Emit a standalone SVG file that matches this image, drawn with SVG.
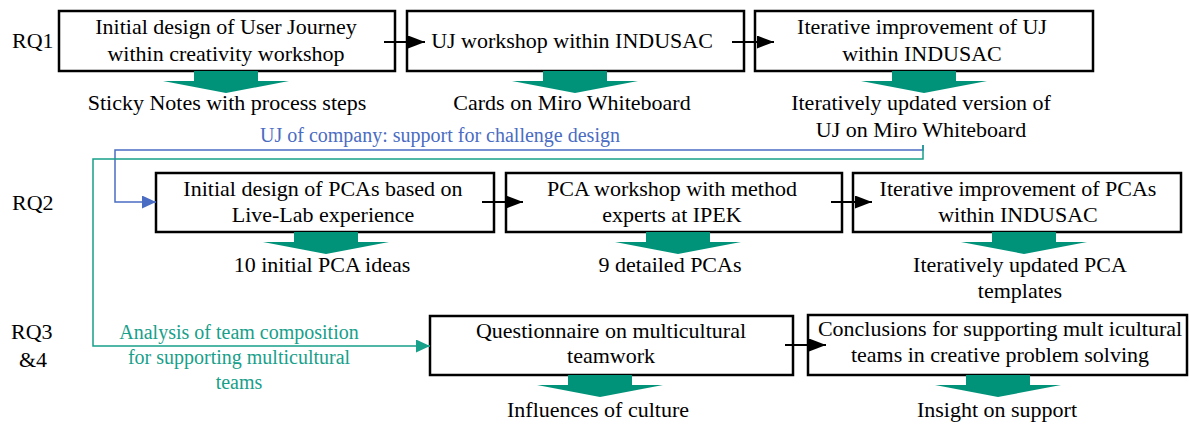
<svg xmlns="http://www.w3.org/2000/svg" width="1189" height="426" viewBox="0 0 1189 426" font-family="'Liberation Serif', 'DejaVu Serif', serif">
  <style>
    text { font-family: 'Liberation Serif', 'DejaVu Serif', serif; font-size: 22px; fill: #000; }
    .c { text-anchor: middle; }
    .box { fill: #fff; stroke: #000; stroke-width: 2.5; }
    .flow { stroke: #000; stroke-width: 2; fill: none; }
    .result { fill: #00937A; }
    .blue { stroke: #4A6CC2; stroke-width: 1.5; fill: none; }
    .teal { stroke: #17A08A; stroke-width: 1.5; fill: none; }
    .blueText { fill: #4A6CC2; font-size: 20px; }
    .tealText { fill: #17A08A; font-size: 20px; }
  </style>
  <defs>
    <marker id="headBlack" markerUnits="userSpaceOnUse" markerWidth="17" markerHeight="13" refX="17" refY="6.5" orient="auto">
      <path d="M0,0 L17,6.5 L0,13 z" fill="#000"/>
    </marker>
    <marker id="headBlue" markerUnits="userSpaceOnUse" markerWidth="14" markerHeight="13" refX="14" refY="6.5" orient="auto">
      <path d="M0,0 L14,6.5 L0,13 z" fill="#4A6CC2"/>
    </marker>
    <marker id="headTeal" markerUnits="userSpaceOnUse" markerWidth="14" markerHeight="13" refX="14" refY="6.5" orient="auto">
      <path d="M0,0 L14,6.5 L0,13 z" fill="#17A08A"/>
    </marker>
    <!-- wide down-arrow pointing at each result, centred on x=0, starting at y=0 -->
    <path id="resultArrow" class="result" d="M-32,0 H32 V10 H63 L0,22 L-63,10 H-32 z"/>
  </defs>

  <!-- row labels -->
  <g id="labels">
    <text x="12" y="48">RQ1</text>
    <text x="12" y="210">RQ2</text>
    <text x="11" y="339">RQ3</text>
    <text x="19" y="367">&amp;4</text>
  </g>

  <g id="connector-labels">
    <text class="blueText c" x="440" y="142">UJ of company: support for challenge design</text>
    <text class="tealText c" x="239" y="339">Analysis of team composition</text>
    <text class="tealText c" x="239" y="364">for supporting multicultural</text>
    <text class="tealText c" x="239" y="389">teams</text>
  </g>

  <!-- RQ1 -->
  <g id="uj-initial">
    <rect class="box" x="59" y="11" width="336" height="60"/>
    <text class="c" x="226" y="34">Initial design of User Journey</text>
    <text class="c" x="226" y="61">within creativity workshop</text>
    <use href="#resultArrow" x="226" y="71"/>
    <text class="c" x="227" y="110">Sticky Notes with process steps</text>
  </g>
  <g id="uj-workshop">
    <rect class="box" x="407" y="11" width="337" height="60"/>
    <text class="c" x="572" y="48">UJ workshop within INDUSAC</text>
    <use href="#resultArrow" x="575" y="71"/>
    <text class="c" x="572" y="110">Cards on Miro Whiteboard</text>
  </g>
  <g id="uj-iterative">
    <rect class="box" x="755" y="11" width="338" height="60"/>
    <text class="c" x="922" y="34">Iterative improvement of UJ</text>
    <text class="c" x="922" y="61">within INDUSAC</text>
    <use href="#resultArrow" x="924" y="71"/>
    <text class="c" x="921" y="110">Iteratively updated version of</text>
    <text class="c" x="921" y="137">UJ on Miro Whiteboard</text>
  </g>

  <!-- RQ2 -->
  <g id="pca-initial">
    <rect class="box" x="156" y="173" width="338" height="59"/>
    <text class="c" x="323" y="196">Initial design of PCAs based on</text>
    <text class="c" x="323" y="222">Live-Lab experience</text>
    <use href="#resultArrow" x="326" y="232"/>
    <text class="c" x="322" y="272">10 initial PCA ideas</text>
  </g>
  <g id="pca-workshop">
    <rect class="box" x="506" y="173" width="336" height="59"/>
    <text class="c" x="672" y="196">PCA workshop with method</text>
    <text class="c" x="672" y="222">experts at IPEK</text>
    <use href="#resultArrow" x="678" y="232"/>
    <text class="c" x="670" y="272">9 detailed PCAs</text>
  </g>
  <g id="pca-iterative">
    <rect class="box" x="853" y="173" width="328" height="59"/>
    <text class="c" x="1018" y="196">Iterative improvement of PCAs</text>
    <text class="c" x="1018" y="222">within INDUSAC</text>
    <use href="#resultArrow" x="1024" y="232"/>
    <text class="c" x="1020" y="272">Iteratively updated PCA</text>
    <text class="c" x="1020" y="298">templates</text>
  </g>

  <!-- RQ3 & 4 -->
  <g id="questionnaire">
    <rect class="box" x="430" y="316" width="363" height="59"/>
    <text class="c" x="611" y="338">Questionnaire on multicultural</text>
    <text class="c" x="611" y="363">teamwork</text>
    <use href="#resultArrow" x="600" y="375"/>
    <text class="c" x="598" y="417">Influences of culture</text>
  </g>
  <g id="conclusions">
    <rect class="box" x="808" y="315" width="379" height="60"/>
    <text class="c" x="1000" y="336">Conclusions for supporting mult icultural</text>
    <text class="c" x="1000" y="362">teams in creative problem solving</text>
    <use href="#resultArrow" x="998" y="375"/>
    <text class="c" x="997" y="417">Insight on support</text>
  </g>

  <!-- connectors drawn last so arrowheads sit over the box borders -->
  <g id="connectors">
    <path class="blue" d="M923,145 V150 H115 V202 H156" marker-end="url(#headBlue)"/>
    <path class="teal" d="M923,145 V159 H93 V346 H430" marker-end="url(#headTeal)"/>
    <path class="flow" d="M384,42 H425" marker-end="url(#headBlack)"/>
    <path class="flow" d="M732,42 H774" marker-end="url(#headBlack)"/>
    <path class="flow" d="M482,202 H523" marker-end="url(#headBlack)"/>
    <path class="flow" d="M831,202 H872" marker-end="url(#headBlack)"/>
    <path class="flow" d="M785,345 H826" marker-end="url(#headBlack)"/>
  </g>
</svg>
